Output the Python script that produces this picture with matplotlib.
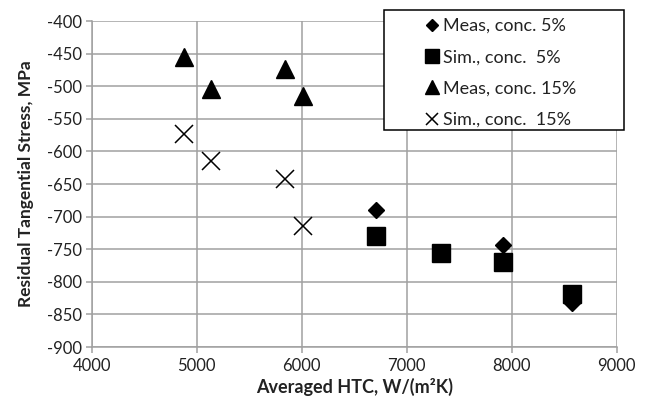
import matplotlib.pyplot as plt
from matplotlib.patches import Rectangle

plt.rcParams['font.family'] = ['Lato', 'DejaVu Sans']
plt.rcParams['axes.unicode_minus'] = False

# data
meas5_x = [6710, 7920, 8575]
meas5_y = [-689, -743, -832]
sim5_x = [6710, 7330, 7920, 8575]
sim5_y = [-730, -755, -770, -818]
meas15_x = [4880, 5135, 5845, 6010]
meas15_y = [-455, -504, -474, -515]
sim15_x = [4880, 5135, 5845, 6010]
sim15_y = [-573, -614, -642, -714]

labels = ['Meas, conc. 5%', 'Sim., conc.  5%', 'Meas, conc. 15%', 'Sim., conc.  15%']

grid_c = '#a0a0a0'
text_c = '#222222'

fig = plt.figure(figsize=(6.5, 3.98), dpi=100)
ax = fig.add_axes([0.141, 0.128, 0.808, 0.819])

h1, = ax.plot(meas5_x, meas5_y, 'D', color='black', ms=8.5, ls='none', zorder=4)
h2, = ax.plot(sim5_x, sim5_y, 's', color='black', ms=13.5, ls='none', zorder=3)
h3, = ax.plot(meas15_x, meas15_y, '^', color='black', ms=13.5, ls='none', zorder=3)
h4, = ax.plot(sim15_x, sim15_y, 'x', color='black', ms=13, mew=1.1, ls='none', zorder=3)

ax.set_xlim(4000, 9000)
ax.set_ylim(-900, -400)
ax.set_xticks(range(4000, 9001, 1000))
ax.set_yticks(range(-900, -399, 50))
ax.grid(True, color=grid_c, lw=1.1)
ax.set_axisbelow(True)
for s in ['top', 'right']:
    ax.spines[s].set_visible(False)
for s in ['left', 'bottom']:
    ax.spines[s].set_color(grid_c)
    ax.spines[s].set_linewidth(1.1)
ax.tick_params(axis='both', colors=grid_c, length=4, width=1.1, labelsize=12, labelcolor=text_c)
ax.tick_params(axis='y', pad=3)
ax.tick_params(axis='x', pad=4)

ax.set_xlabel('Averaged HTC, W/(m²K)', fontsize=13, fontweight='bold', color=text_c, labelpad=3)
ax.set_ylabel('Residual Tangential Stress, MPa', fontsize=12.5, fontweight='bold', color=text_c, labelpad=9)

# legend box
box = Rectangle((384 / 650, 1 - 130 / 398), 240 / 650, 120 / 398, transform=fig.transFigure,
                facecolor='white', edgecolor='black', lw=1.1, zorder=10)
fig.patches.append(box)
leg = fig.legend([h1, h2, h3, h4], labels, loc='upper left',
                 bbox_to_anchor=(424.5 / 650, 1 - 18 / 398), frameon=False, fontsize=13,
                 markerscale=0.7, handlelength=0.8, handletextpad=0.2, labelspacing=0.85,
                 borderpad=0, borderaxespad=0)
for t in leg.get_texts():
    t.set_color(text_c)
leg.set_zorder(11)

fig.savefig('out.png', dpi=100)
